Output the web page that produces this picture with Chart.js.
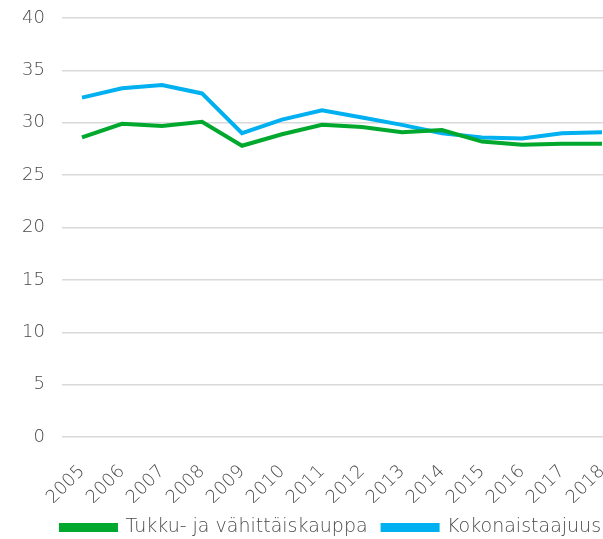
<!DOCTYPE html>
<html>
<head>
<meta charset="utf-8">
<script src="https://cdn.jsdelivr.net/npm/chart.js@4/dist/chart.umd.min.js"></script>
<style>
  html, body { margin: 0; padding: 0; background: #fff; overflow: hidden; }
  #wrap { width: 662px; height: 539px; }
</style>
</head>
<body>
<div id="wrap"><canvas id="c" width="662" height="539"></canvas></div>
<script>
const years = ['2005','2006','2007','2008','2009','2010','2011','2012','2013','2014','2015','2016','2017','2018'];
const tukkuJaVahittaiskauppa = [28.6, 29.9, 29.7, 30.1, 27.8, 28.9, 29.8, 29.6, 29.1, 29.3, 28.2, 27.9, 28.0, 28.0];
const kokonaistaajuus = [32.4, 33.3, 33.6, 32.8, 29.0, 30.3, 31.2, 30.5, 29.8, 29.0, 28.6, 28.5, 29.0, 29.1];
const seriesNames = ['Tukku- ja vähittäiskauppa', 'Kokonaistaajuus'];
const yTicks = { min: 0, max: 40, step: 5 };

const FONT = '"DejaVu Sans"';
const TEXT = '#4a4a4a';
const GREEN = '#00a82d';
const BLUE = '#00b0f0';

new Chart(document.getElementById('c'), {
  type: 'line',
  data: {
    labels: years,
    datasets: [
      { label: seriesNames[0], data: tukkuJaVahittaiskauppa, borderColor: GREEN, backgroundColor: GREEN, borderWidth: 4, pointRadius: 0, tension: 0 },
      { label: seriesNames[1], data: kokonaistaajuus, borderColor: BLUE, backgroundColor: BLUE, borderWidth: 4, pointRadius: 0, tension: 0 }
    ]
  },
  options: {
    responsive: false,
    animation: false,
    layout: { padding: { top: 18, left: 0, right: 0, bottom: -8 } },
    plugins: {
      legend: {
        position: 'bottom',
        labels: {
          boxWidth: 55,
          boxHeight: 5,
          padding: 15,
          color: TEXT,
          font: { family: FONT, size: 19, weight: 200 }
        }
      },
      tooltip: { enabled: false }
    },
    scales: {
      x: {
        offset: true,
        grid: { display: false },
        border: { display: false },
        ticks: {
          color: TEXT,
          font: { family: FONT, size: 18, weight: 200 },
          minRotation: 45, maxRotation: 45,
          padding: 16
        },
        afterFit: s => { s.height = 66; s.paddingLeft = 0; s.paddingRight = 0; }
      },
      y: {
        min: yTicks.min, max: yTicks.max,
        grid: { color: '#d9d9d9', lineWidth: 1.5, drawTicks: false },
        border: { display: false },
        ticks: {
          stepSize: yTicks.step,
          color: TEXT,
          font: { family: FONT, size: 18, weight: 200 },
          padding: 17
        },
        afterFit: s => { s.width = 62; s.paddingTop = 0; s.paddingBottom = 0; }
      },
      yr: {
        position: 'right',
        display: true,
        grid: { display: false },
        border: { display: false },
        ticks: { display: false },
        afterFit: s => { s.width = 40; s.paddingTop = 0; s.paddingBottom = 0; }
      }
    }
  }
});
</script>
</body>
</html>
